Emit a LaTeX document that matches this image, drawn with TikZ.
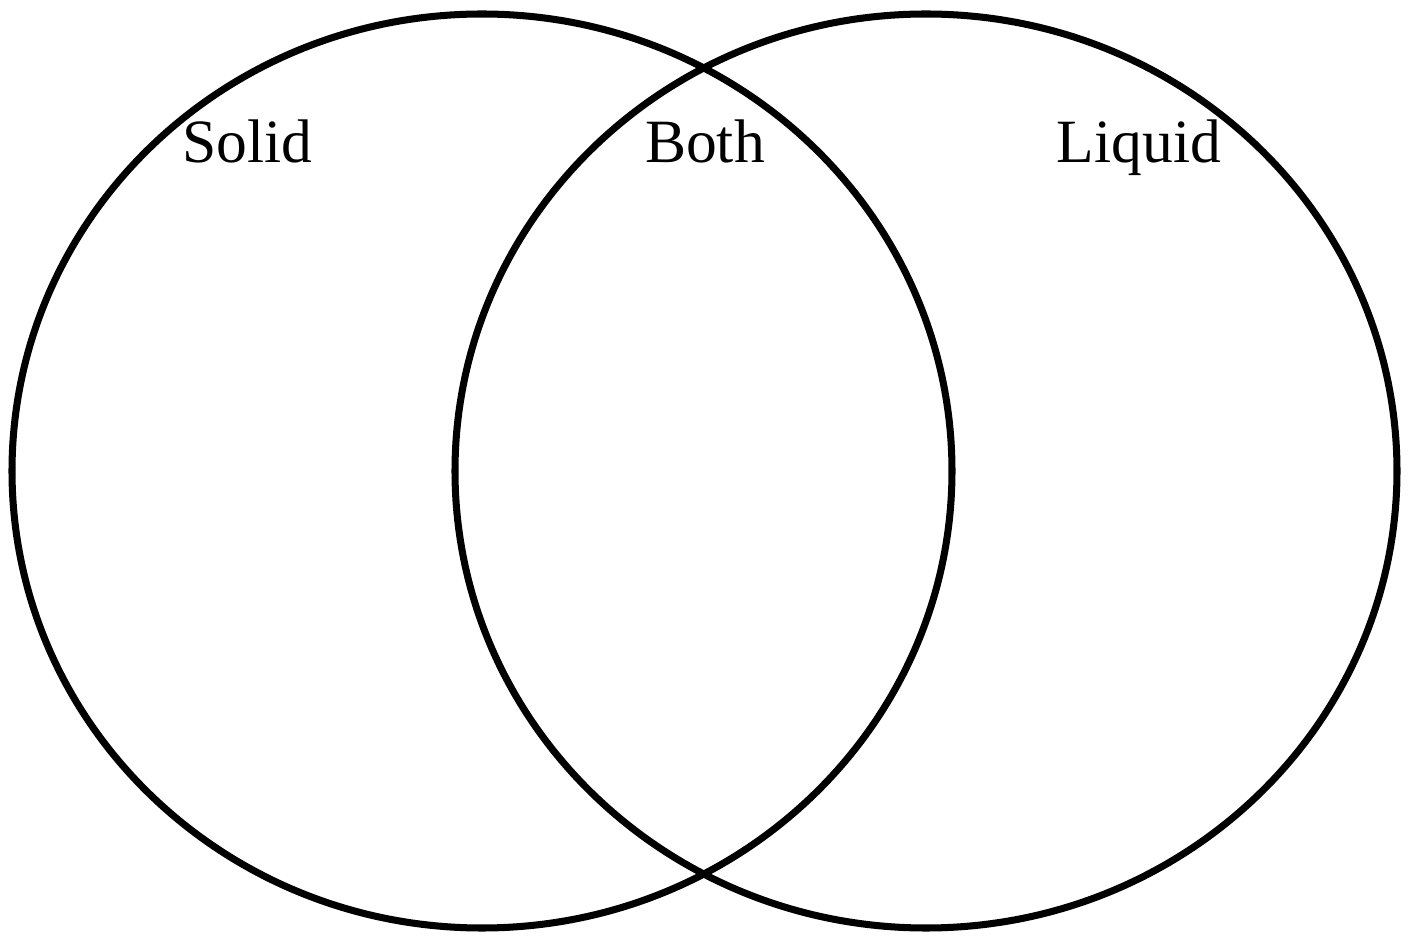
\documentclass[tikz,border=0pt]{standalone}
\usepackage{fontspec}
\setmainfont{Liberation Serif}
\begin{document}
\begin{tikzpicture}[x=0.01cm, y=-0.01cm, set/.style={line width=2pt, black}, setlabel/.style={font=\fontsize{17.5}{21}\selectfont, inner sep=0pt, anchor=base}]
\useasboundingbox (0,0) rectangle (1408,937);
% left set
\draw[set] (482,471) ellipse [x radius=470, y radius=457];
\node[setlabel] (solid) at (247,163) {Solid};
% right set
\draw[set] (926,471) ellipse [x radius=471, y radius=457];
\node[setlabel] (liquid) at (1139,163) {Liquid};
% overlap
\node[setlabel] (both) at (705,163) {Both};
\end{tikzpicture}
\end{document}
